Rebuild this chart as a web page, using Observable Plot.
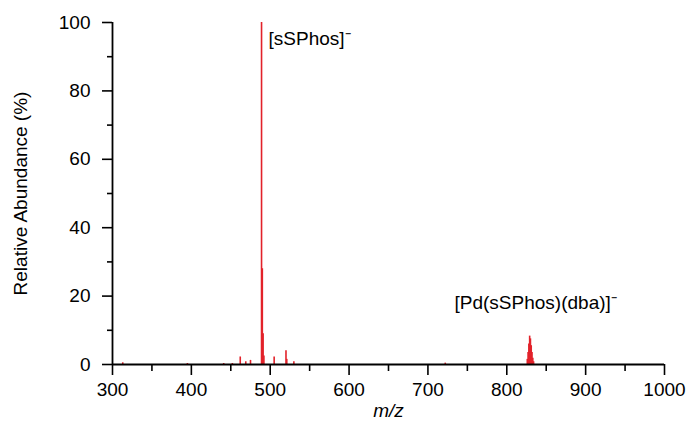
<!DOCTYPE html>
<html>
<head>
<meta charset="utf-8">
<script src="https://cdn.jsdelivr.net/npm/d3@7"></script>
<script src="https://cdn.jsdelivr.net/npm/@observablehq/plot@0.6"></script>
<style>
  html, body { margin: 0; padding: 0; background: #fff; }
  #chart { width: 693px; height: 437px; }
</style>
</head>
<body>
<div id="chart"></div>
<script>
// Negative-ion ESI mass spectrum: centroided peaks (m/z, relative abundance %)
const peakMz = [313, 395, 441, 452, 462, 469, 475, 489, 490, 491, 492, 505, 520, 521, 530, 722,
                826, 827, 828, 829, 830, 831, 832, 833, 834];
const peakAbundance = [0.5, 0.3, 0.3, 0.3, 2.2, 0.8, 1.2, 100, 28, 9, 2.5, 2.2, 4.0, 1.5, 0.8, 0.4,
                       1.5, 3.5, 6.0, 8.3, 7.5, 5.5, 3.5, 1.8, 0.8];

// Ion assignments
const ionLabels = ["[sSPhos]\u207B", "[Pd(sSPhos)(dba)]\u207B"];
const ionMz = [489, 829];
const ionAbundance = [100, 8.3];

// Axis ticks
const xMajorTicks = [300, 400, 500, 600, 700, 800, 900, 1000];
const xMinorTicks = [350, 450, 550, 650, 750, 850, 950];
const yMajorTicks = [0, 20, 40, 60, 80, 100];
const yMinorTicks = [10, 30, 50, 70, 90];

const peaks = peakMz.map((mz, i) => ({mz, abundance: peakAbundance[i]}));
const ions = ionLabels.map((label, i) => ({label, mz: ionMz[i], abundance: ionAbundance[i]}));

const red = "#e2222a";
const font = "'Liberation Sans', Arial, sans-serif";

const chart = Plot.plot({
  width: 693,
  height: 437,
  marginLeft: 112,
  marginRight: 29,
  marginTop: 22,
  marginBottom: 73,
  style: {fontSize: "19px", fontFamily: font, color: "#000", background: "#fff", overflow: "visible"},
  x: {domain: [300, 1000]},
  y: {domain: [0, 100]},
  marks: [
    // spectrum sticks
    Plot.ruleX(peaks, {x: "mz", y1: 0, y2: "abundance", stroke: red, strokeWidth: 1.6}),
    // axes
    Plot.axisX({ticks: xMajorTicks, tickSize: 11, tickPadding: 7, tickFormat: d3.format("d"), strokeWidth: 1.6, label: null}),
    Plot.axisX({ticks: xMinorTicks, tickSize: 7, text: null, strokeWidth: 1.6, label: null}),
    Plot.axisY({ticks: yMajorTicks, tickSize: 10, tickPadding: 12, strokeWidth: 1.6, label: null}),
    Plot.axisY({ticks: yMinorTicks, tickSize: 5, text: null, strokeWidth: 1.6, label: null}),
    Plot.ruleY([0], {stroke: "#000", strokeWidth: 1.8}),
    Plot.ruleX([300], {stroke: "#000", strokeWidth: 1.8}),
    // axis titles
    Plot.text(["m/z"], {frameAnchor: "bottom", dy: 52, fontStyle: "italic", fontSize: 19}),
    Plot.text(["Relative Abundance (%)"], {frameAnchor: "left", dx: -92, rotate: -90, textAnchor: "middle", fontSize: 19}),
    // ion labels
    Plot.text(ions.slice(0, 1), {x: "mz", y: "abundance", text: "label", textAnchor: "start", dx: 7, dy: 16, fontSize: 19}),
    Plot.text(ions.slice(1), {x: "mz", y: "abundance", text: "label", textAnchor: "middle", dx: 6, dy: -33, fontSize: 19})
  ]
});

document.getElementById("chart").appendChild(chart);
</script>
</body>
</html>
